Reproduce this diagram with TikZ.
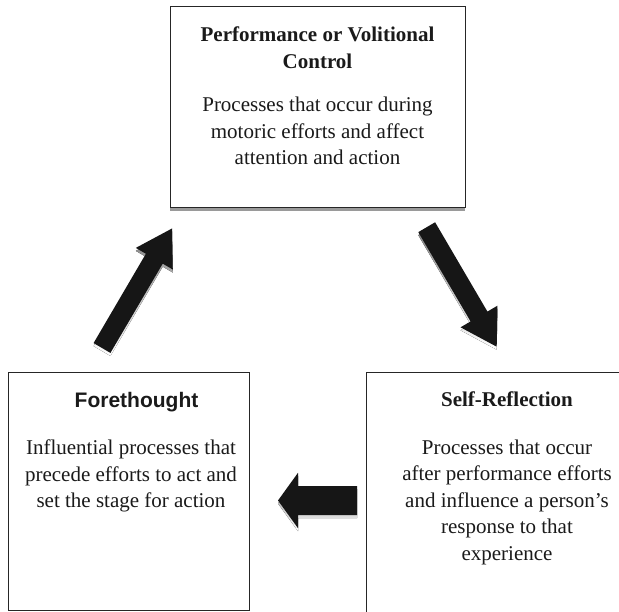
\documentclass[tikz,border=0pt]{standalone}
\usepackage{fontspec}
\setmainfont{Liberation Serif}
\newfontfamily\headsans{Liberation Sans}
\usetikzlibrary{calc,shadows}
\definecolor{ink}{HTML}{1A1A1A}
\definecolor{boxline}{HTML}{262626}
\definecolor{shade}{HTML}{9A9A9A}
\definecolor{arrowfill}{HTML}{161616}
\newcommand\blkarrow[6]{%
  % #1 tail, #2 tip, #3 half shaft width, #4 half head width, #5 head length, #6 style
  \coordinate (ba-#1) at ($(#2)!#5!(#1)$);
  \fill[#6] ($(#1)!#3!90:(#2)$) -- ($(ba-#1)!#3!-90:(#1)$) -- ($(ba-#1)!#4!-90:(#1)$)
    -- (#2) -- ($(ba-#1)!#4!90:(#1)$) -- ($(ba-#1)!#3!90:(#1)$) -- ($(#1)!#3!-90:(#2)$) -- cycle;
}
\begin{document}
\begin{tikzpicture}[x=1pt,y=-1pt,
  box/.style={draw=boxline, line width=0.9pt, fill=white, inner sep=0pt, rectangle},
  txt/.style={align=center, inner sep=0pt, anchor=north, text=ink, font=\fontsize{21}{26.5}\selectfont},
  head/.style={txt, font=\fontsize{21}{26.5}\selectfont\bfseries},
  sanshead/.style={txt, font=\headsans\fontsize{21}{26.5}\selectfont\bfseries},
  shadowlayer/.style={transform canvas={yshift=-3pt}},
]
\clip (0,0) rectangle (619,612);
\fill[white] (0,0) rectangle (619,612);

% boxes
\node[box, minimum width=295pt, minimum height=201pt,
      drop shadow={shadow xshift=0pt, shadow yshift=-4pt, fill=shade, opacity=1}]
      (perf) at (317.5,106.5) {};
\node[box, minimum width=241pt, minimum height=238pt] (fore) at (128.5,491) {};
\node[box, minimum width=282pt, minimum height=278pt] (self) at (507,511) {};

% texts
\node[head] (perfhead) at (317.5,27) {Performance or Volitional\\Control};
\node[txt] (perfbody) at (317.5,97) {Processes that occur during\\motoric efforts and affect\\attention and action};
\node[sanshead] (forehead) at (136.5,392) {Forethought};
\node[txt] (forebody) at (131,440) {Influential processes that\\precede efforts to act and\\set the stage for action};
\node[head] (selfhead) at (507,392) {Self-Reflection};
\node[txt] (selfbody) at (507,439.5) {Processes that occur\\after performance efforts\\and influence a person’s\\response to that\\experience};

% block arrows
\coordinate (uptail) at (102,348);
\coordinate (uptip) at (172,228.5);
\coordinate (dntail) at (426.7,227.2);
\coordinate (dntip) at (496.7,346.7);
\coordinate (lftail) at (357,500.5);
\coordinate (lftip) at (278,500.5);

\begin{scope}[shadowlayer]
  \blkarrow{uptail}{uptip}{9.75pt}{21.4pt}{35pt}{shade}
  \blkarrow{dntail}{dntip}{9.75pt}{21.4pt}{35pt}{shade}
  \blkarrow{lftail}{lftip}{14.5pt}{27.7pt}{20pt}{shade}
\end{scope}
\blkarrow{uptail}{uptip}{9.75pt}{21.4pt}{35pt}{arrowfill}
\blkarrow{dntail}{dntip}{9.75pt}{21.4pt}{35pt}{arrowfill}
\blkarrow{lftail}{lftip}{14.5pt}{27.7pt}{20pt}{arrowfill}
\end{tikzpicture}
\end{document}
